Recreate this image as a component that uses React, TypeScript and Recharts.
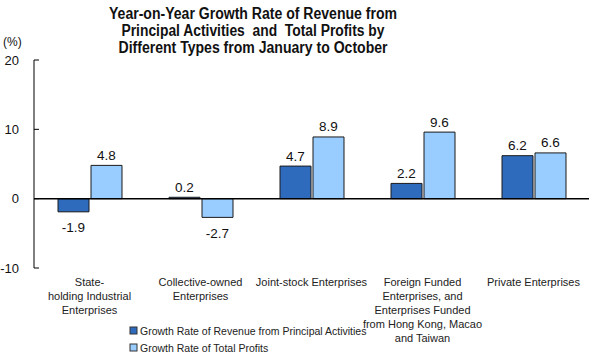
import React from "react";
import { BarChart, Bar, XAxis, YAxis, ReferenceLine, LabelList } from "recharts";

const categories = [
  "State-\nholding Industrial\nEnterprises",
  "Collective-owned\nEnterprises",
  "Joint-stock Enterprises",
  "Foreign Funded\nEnterprises, and\nEnterprises Funded\nfrom Hong Kong, Macao\nand Taiwan",
  "Private Enterprises",
];
const revenueGrowth = [-1.9, 0.2, 4.7, 2.2, 6.2];
const profitGrowth = [4.8, -2.7, 8.9, 9.6, 6.6];
const yTicks = [-10, 0, 10, 20];

const seriesNames = [
  "Growth Rate of Revenue from Principal Activities",
  "Growth Rate of Total Profits",
];
const titleLines = [
  "Year-on-Year Growth Rate of Revenue from",
  "Principal Activities  and  Total Profits by",
  "Different Types from January to October",
];

const DARK = "#2f6bbd";
const LIGHT = "#99ccff";
const FONT = "'Liberation Sans', Arial, sans-serif";

const data = categories.map((name, i) => ({
  name,
  revenue: revenueGrowth[i],
  profit: profitGrowth[i],
}));

const ValueLabel = (props: any) => {
  const { x, y, width, height, value } = props;
  const top = Math.min(y, y + height);
  const bottom = Math.max(y, y + height);
  const cx = x + width / 2;
  const ty = value >= 0 ? top - 10 : bottom + 16;
  return (
    <text x={cx} y={ty} textAnchor="middle" dominantBaseline="central" fontSize={13.5} fill="#111" fontFamily={FONT}>
      {value.toFixed(1)}
    </text>
  );
};

const XTick = (props: any) => {
  const { x, y, payload } = props;
  const lines = String(payload.value).split("\n");
  return (
    <g>
      {lines.map((l, i) => (
        <text key={i} x={x} y={y + 10 + i * 14} textAnchor="middle" fontSize={11} fill="#222" fontFamily={FONT}>
          {l}
        </text>
      ))}
    </g>
  );
};

const YTick = (props: any) => {
  const { y, payload } = props;
  return (
    <g>
      <line x1={34} x2={39} y1={y} y2={y} stroke="#000" />
      <text x={19} y={y} textAnchor="end" dominantBaseline="central" fontSize={13} fill="#111" fontFamily={FONT}>
        {payload.value}
      </text>
    </g>
  );
};

export default function App() {
  return (
    <div style={{ position: "relative", width: 590, height: 357, background: "#fff" }}>
      <style>{"body{margin:0}"}</style>
      <BarChart
        width={590}
        height={357}
        data={data}
        margin={{ top: 60, right: 1, left: 0, bottom: 0 }}
        barSize={31}
        barGap={2}
      >
        <XAxis dataKey="name" axisLine={false} tickLine={false} height={89} tick={<XTick />} interval={0} />
        <YAxis
          width={34}
          domain={[-10, 20]}
          ticks={yTicks}
          axisLine={{ stroke: "#000" }}
          tickLine={false}
          tick={<YTick />}
          interval={0}
        />
        <ReferenceLine y={0} stroke="#000" strokeWidth={1.5} />
        <Bar dataKey="revenue" fill={DARK} stroke="#1a1a1a" strokeWidth={1} isAnimationActive={false}>
          <LabelList dataKey="revenue" content={<ValueLabel />} />
        </Bar>
        <Bar dataKey="profit" fill={LIGHT} stroke="#1a1a1a" strokeWidth={1} isAnimationActive={false}>
          <LabelList dataKey="profit" content={<ValueLabel />} />
        </Bar>
      </BarChart>
      <svg width={590} height={357} style={{ position: "absolute", left: 0, top: 0, pointerEvents: "none" }}>
        {titleLines.map((t, i) => (
          <text
            key={i}
            x={253}
            y={13 + i * 17}
            textAnchor="middle"
            dominantBaseline="central"
            fontSize={16}
            fontWeight="bold"
            fill="#111"
            fontFamily={FONT}
            textLength={[288, 263, 269][i]}
            lengthAdjust="spacingAndGlyphs"
            style={{ whiteSpace: "pre" }}
          >
            {t}
          </text>
        ))}
        <text x={3} y={42} dominantBaseline="central" fontSize={12} fill="#111" fontFamily={FONT}>
          (%)
        </text>
        {seriesNames.map((n, i) => (
          <g key={n}>
            <rect x={130} y={327 + i * 17} width={7} height={7} fill={i === 0 ? DARK : LIGHT} stroke="#333" />
            <text x={140} y={331 + i * 17} dominantBaseline="central" fontSize={10.5} fill="#222" fontFamily={FONT}>
              {n}
            </text>
          </g>
        ))}
      </svg>
    </div>
  );
}
